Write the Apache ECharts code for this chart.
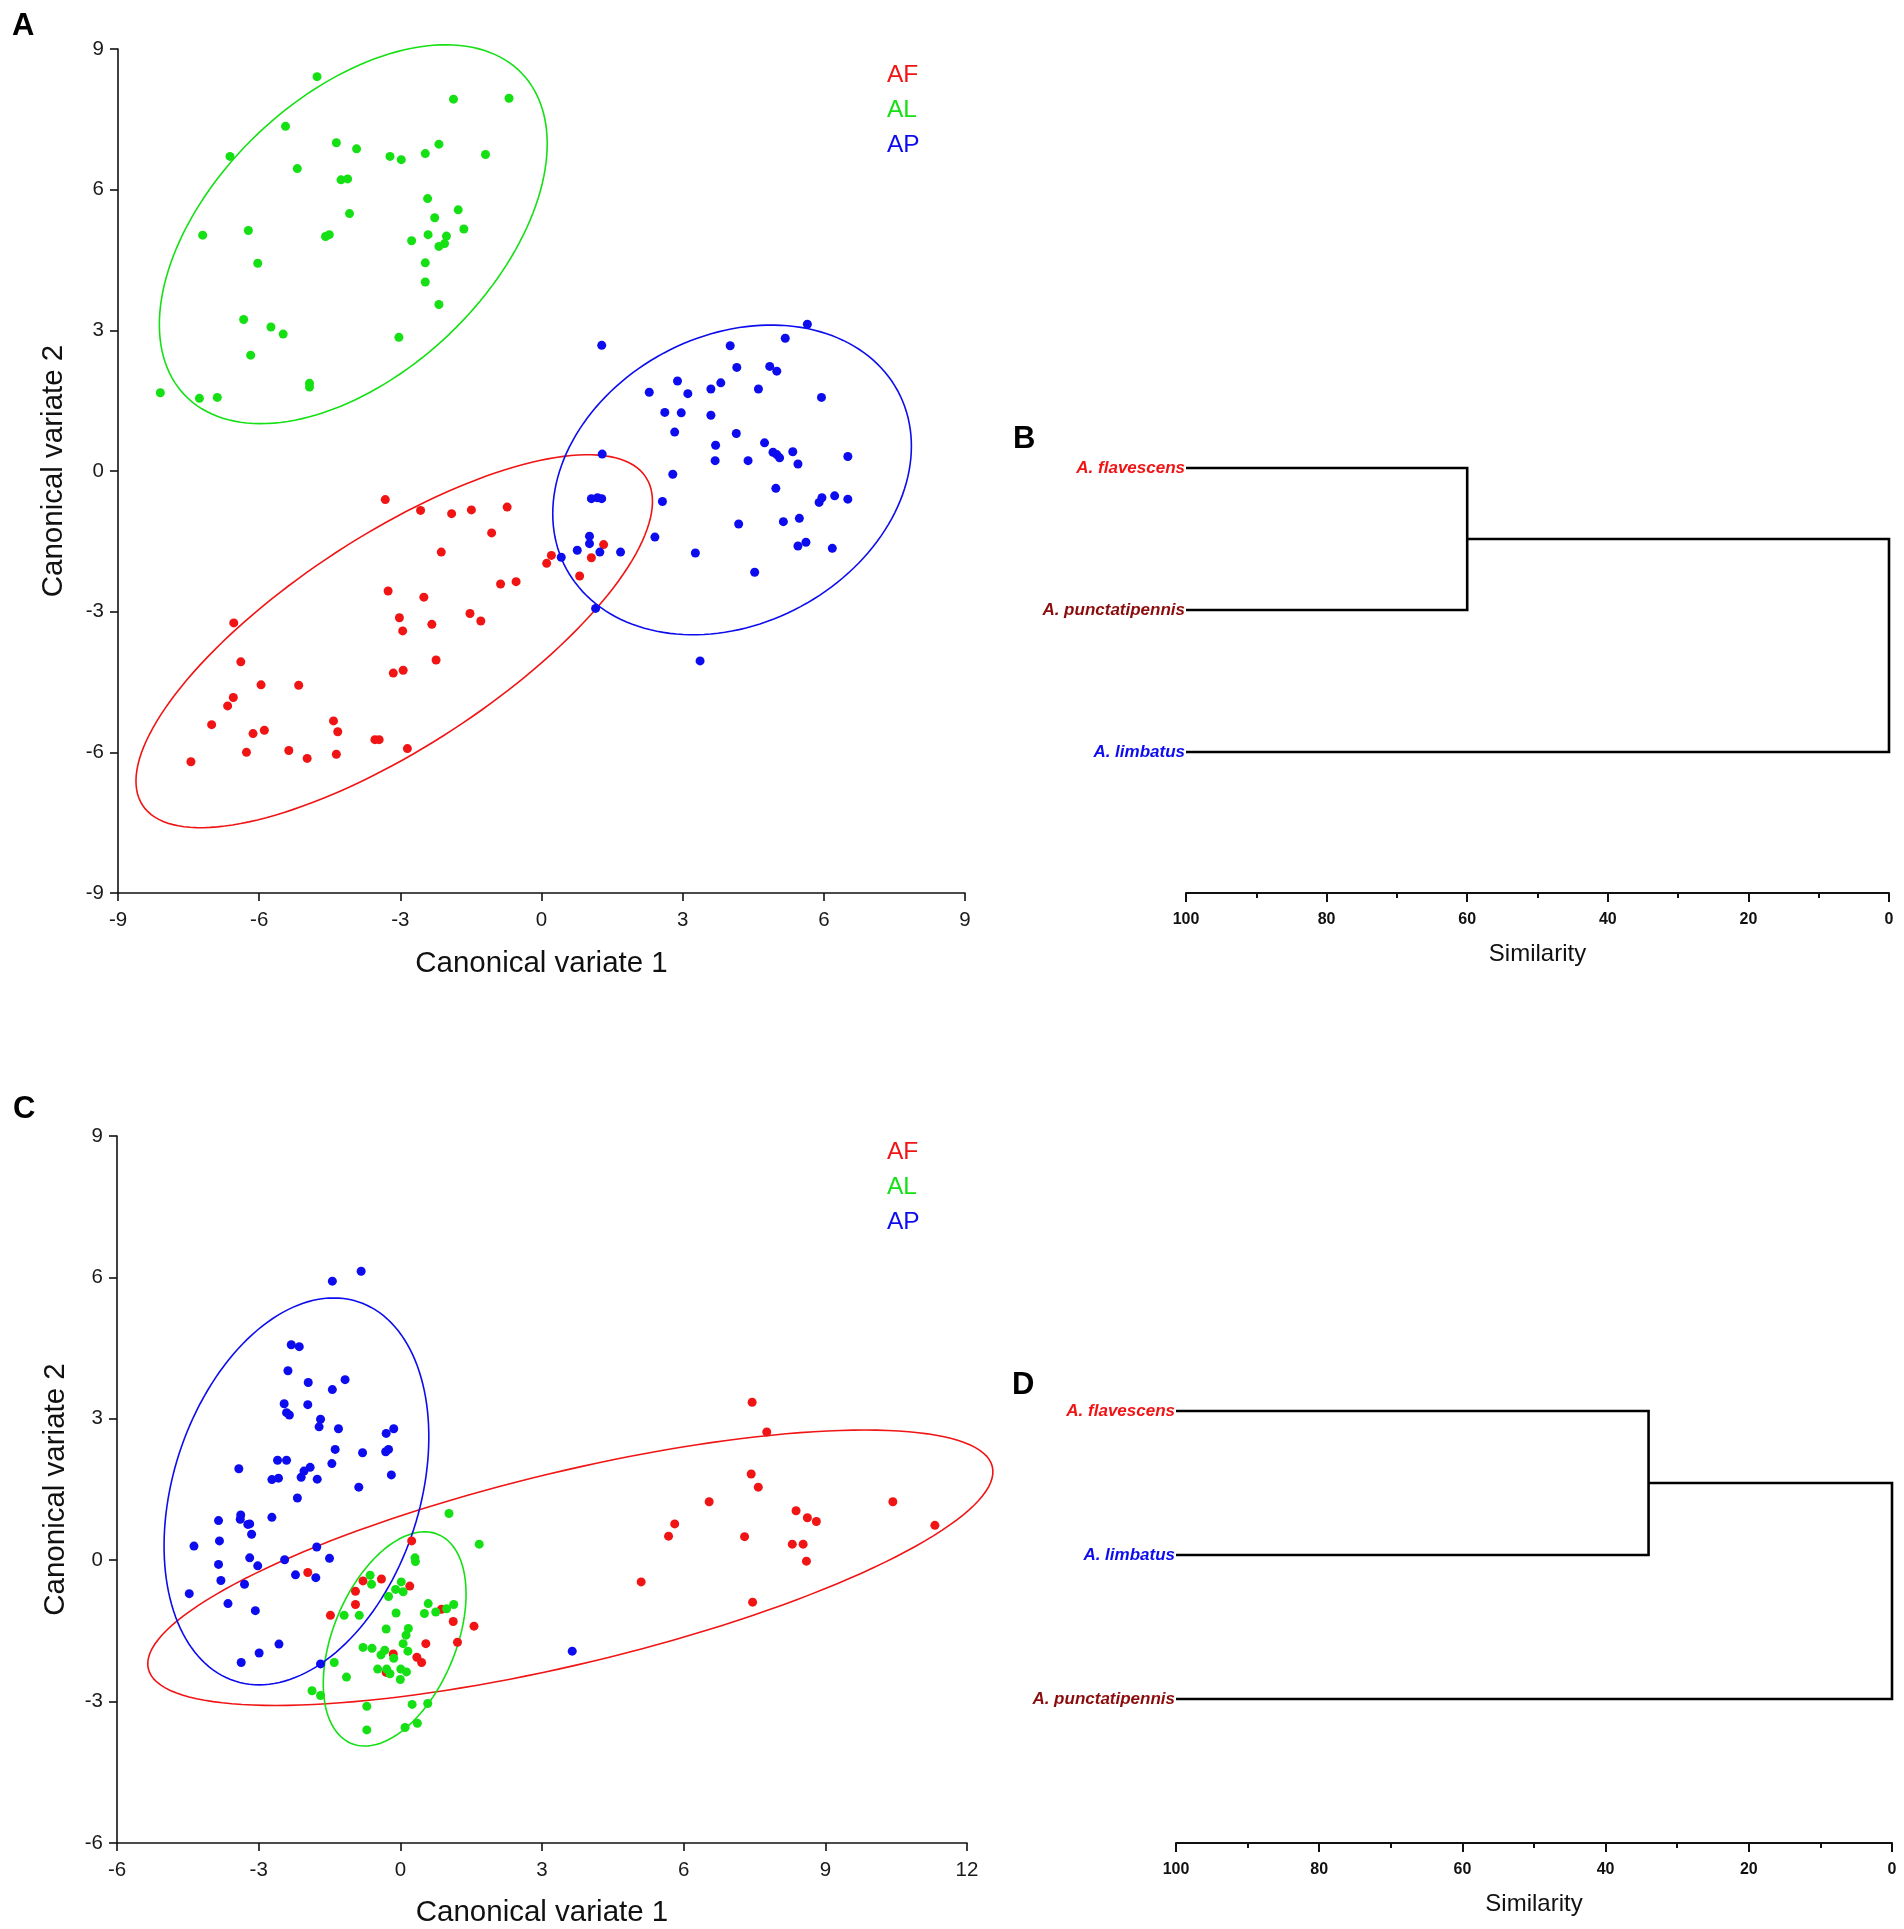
<!DOCTYPE html>
<html>
<head>
<meta charset="utf-8">
<title>Canonical variates and similarity dendrograms</title>
<script src="https://cdn.jsdelivr.net/npm/echarts@6/dist/echarts.min.js"></script>
<style>
  html, body { margin: 0; padding: 0; background: #fff; }
  #chart { width: 1904px; height: 1929px; }
</style>
</head>
<body>
<div id="chart"></div>
<script>
// colours of the three species
const RED = '#f01414';
const GREEN = '#14e014';
const BLUE = '#0c0cee';
const DARKRED = '#8b0c0c';
const FONT = 'Liberation Sans, Arial, sans-serif';

// ---- panel A : canonical variates ----
const afA = [
  [-3.32, -0.61], [-2.57, -0.84], [-1.91, -0.91], [-1.49, -0.83], [-0.73, -0.77],
  [-1.06, -1.32], [-2.13, -1.73], [0.21, -1.80], [0.11, -1.97], [1.32, -1.57],
  [1.06, -1.85], [0.81, -2.24], [-0.87, -2.41], [-0.54, -2.36], [-3.26, -2.56],
  [-2.50, -2.69], [-3.02, -3.13], [-2.95, -3.41], [-2.33, -3.27], [-1.52, -3.04],
  [-1.29, -3.20], [-6.54, -3.24], [-2.24, -4.03], [-3.15, -4.31], [-2.94, -4.25],
  [-6.39, -4.07], [-5.96, -4.56], [-5.16, -4.57], [-6.55, -4.83], [-6.67, -5.01],
  [-7.01, -5.41], [-6.13, -5.60], [-5.89, -5.53], [-4.42, -5.33], [-4.33, -5.56],
  [-3.54, -5.73], [-3.45, -5.73], [-2.85, -5.92], [-5.37, -5.96], [-4.98, -6.13],
  [-4.36, -6.04], [-6.27, -6.00], [-7.45, -6.20]
];
const alA = [
  [-4.77, 8.41], [-1.87, 7.93], [-0.69, 7.95], [-5.44, 7.35], [-6.62, 6.71],
  [-4.36, 7.00], [-3.93, 6.87], [-5.19, 6.45], [-3.22, 6.71], [-2.98, 6.64],
  [-2.47, 6.77], [-2.18, 6.97], [-1.19, 6.75], [-4.26, 6.21], [-4.12, 6.23],
  [-2.42, 5.81], [-1.77, 5.57], [-2.27, 5.40], [-1.65, 5.16], [-4.08, 5.49],
  [-6.23, 5.13], [-7.20, 5.03], [-4.59, 5.00], [-4.51, 5.04], [-2.41, 5.04],
  [-2.02, 5.01], [-2.76, 4.91], [-2.18, 4.79], [-2.06, 4.85], [-2.47, 4.44],
  [-6.03, 4.43], [-2.47, 4.03], [-2.18, 3.55], [-6.33, 3.23], [-5.75, 3.07],
  [-5.49, 2.92], [-3.03, 2.85], [-6.18, 2.47], [-4.93, 1.87], [-4.93, 1.79],
  [-8.10, 1.67], [-7.27, 1.55], [-6.89, 1.57]
];
const apA = [
  [5.65, 3.13], [1.28, 2.68], [4.01, 2.67], [5.18, 2.83], [4.15, 2.21],
  [4.85, 2.23], [5.00, 2.13], [2.89, 1.92], [3.81, 1.88], [2.29, 1.68],
  [3.11, 1.65], [3.60, 1.75], [4.61, 1.75], [5.95, 1.57], [2.62, 1.25],
  [2.97, 1.24], [3.60, 1.19], [2.83, 0.83], [4.14, 0.80], [3.70, 0.55],
  [4.74, 0.60], [4.92, 0.40], [5.00, 0.35], [5.06, 0.28], [5.34, 0.41],
  [5.45, 0.15], [6.51, 0.31], [3.69, 0.22], [4.39, 0.22], [1.29, 0.36],
  [2.79, -0.07], [4.98, -0.37], [5.90, -0.67], [5.96, -0.57], [6.23, -0.53],
  [6.51, -0.60], [1.06, -0.59], [1.19, -0.57], [1.28, -0.59], [2.57, -0.65],
  [4.19, -1.13], [5.14, -1.08], [5.48, -1.01], [1.02, -1.39], [1.02, -1.55],
  [2.41, -1.41], [5.45, -1.60], [5.62, -1.52], [6.18, -1.65], [0.42, -1.84],
  [0.76, -1.69], [1.24, -1.73], [1.68, -1.73], [3.27, -1.75], [4.53, -2.16],
  [1.15, -2.93], [3.37, -4.05]
];
// ellipses: name, centre x, centre y, semi-major, semi-minor, angle (deg)
const ellipsesA = [
  ['AF', -3.13, -3.63, 6.39, 2.26, 33.2],
  ['AL', -4.00, 5.05, 4.96, 2.95, 43.8],
  ['AP', 4.05, -0.19, 4.00, 3.07, 28.3]
];

// ---- panel C ----
const afC = [
  [7.45, 3.35], [7.76, 2.72], [7.43, 1.83], [7.58, 1.55], [6.54, 1.24],
  [10.43, 1.24], [8.38, 1.05], [8.62, 0.90], [8.81, 0.82], [5.81, 0.77],
  [11.32, 0.74], [5.68, 0.51], [7.29, 0.50], [8.30, 0.34], [8.53, 0.34],
  [8.60, -0.02], [5.10, -0.46], [7.46, -0.89], [0.24, 0.41], [-1.96, -0.26],
  [-0.79, -0.44], [-0.40, -0.40], [0.20, -0.55], [-0.95, -0.66], [-0.95, -0.94],
  [-1.48, -1.17], [0.87, -1.04], [1.12, -1.30], [1.56, -1.40], [1.21, -1.74],
  [0.54, -1.77], [-0.15, -1.99], [0.35, -2.06], [0.45, -2.17], [-0.30, -2.38]
];
const alC = [
  [1.03, 0.99], [1.67, 0.34], [0.31, 0.05], [0.32, -0.03], [-0.64, -0.32],
  [0.02, -0.46], [-0.61, -0.51], [-0.10, -0.62], [0.06, -0.67], [-0.25, -0.77],
  [0.59, -0.92], [1.13, -0.94], [0.98, -1.03], [0.75, -1.10], [0.51, -1.13],
  [-0.09, -1.12], [-0.87, -1.17], [-1.19, -1.17], [-0.30, -1.46], [0.17, -1.45],
  [0.12, -1.59], [0.06, -1.77], [-0.79, -1.85], [-0.60, -1.87], [0.16, -1.93],
  [-0.33, -1.91], [-0.41, -2.01], [-0.14, -2.08], [-1.40, -2.17], [-0.48, -2.31],
  [-0.29, -2.31], [0.01, -2.31], [-0.22, -2.41], [0.13, -2.37], [0.00, -2.53],
  [-1.14, -2.48], [-1.87, -2.77], [-1.69, -2.87], [0.25, -3.06], [0.58, -3.04],
  [-0.71, -3.10], [0.36, -3.46], [0.10, -3.55], [-0.71, -3.60]
];
const apC = [
  [-0.83, 6.13], [-1.44, 5.92], [-2.31, 4.57], [-2.14, 4.53], [-2.38, 4.02],
  [-1.17, 3.83], [-1.95, 3.77], [-1.44, 3.62], [-2.46, 3.32], [-1.96, 3.30],
  [-2.41, 3.13], [-2.35, 3.08], [-1.69, 2.99], [-1.72, 2.83], [-1.31, 2.79],
  [-0.14, 2.79], [-0.30, 2.69], [-0.25, 2.35], [-0.31, 2.30], [-1.38, 2.35],
  [-0.80, 2.28], [-2.60, 2.12], [-2.41, 2.12], [-1.45, 2.05], [-1.91, 1.97],
  [-2.04, 1.89], [-3.42, 1.94], [-2.10, 1.76], [-1.76, 1.72], [-2.72, 1.71],
  [-2.58, 1.74], [-0.19, 1.81], [-0.88, 1.55], [-2.18, 1.32], [-2.72, 0.91],
  [-3.85, 0.84], [-3.38, 0.96], [-3.39, 0.87], [-3.23, 0.76], [-3.19, 0.77],
  [-3.15, 0.55], [-3.83, 0.41], [-4.37, 0.30], [-1.77, 0.28], [-3.19, 0.05],
  [-2.45, 0.01], [-1.50, 0.04], [-3.85, -0.09], [-3.02, -0.12], [-2.22, -0.31],
  [-1.79, -0.37], [-3.80, -0.43], [-3.30, -0.51], [-4.47, -0.71], [-3.65, -0.92],
  [-3.07, -1.07], [-2.57, -1.78], [-2.99, -1.97], [-3.37, -2.17], [-1.69, -2.20],
  [3.64, -1.93]
];
const ellipsesC = [
  ['AF', 3.60, -0.16, 9.19, 2.04, 13.5],
  ['AL', -0.12, -1.67, 2.40, 1.30, 67.5],
  ['AP', -2.20, 1.46, 4.23, 2.61, 72.1]
];

// ---- dendrograms: leaves (top to bottom) and merges [childA, childB, similarity] ----
const leavesB = ['A. flavescens', 'A. punctatipennis', 'A. limbatus'];
const mergesB = [[0, 1, 60], [3, 2, 0]];
const leavesD = ['A. flavescens', 'A. limbatus', 'A. punctatipennis'];
const mergesD = [[0, 1, 34], [3, 2, 0]];
const simTicks = [0, 100, 20];

const groupColor = { AF: RED, AL: GREEN, AP: BLUE };
const leafColor = { 'A. flavescens': RED, 'A. punctatipennis': DARKRED, 'A. limbatus': BLUE };

function ellipseItem(params, api) {
  const cx = api.value(0), cy = api.value(1);
  const a = api.value(2), b = api.value(3);
  const t = api.value(4) * Math.PI / 180;
  const pts = [];
  for (let k = 0; k < 160; k++) {
    const u = k / 160 * 2 * Math.PI;
    const x = cx + a * Math.cos(u) * Math.cos(t) - b * Math.sin(u) * Math.sin(t);
    const y = cy + a * Math.cos(u) * Math.sin(t) + b * Math.sin(u) * Math.cos(t);
    pts.push(api.coord([x, y]));
  }
  return {
    type: 'polygon',
    shape: { points: pts },
    style: { fill: 'none', stroke: api.visual('color'), lineWidth: 1.6 }
  };
}

function dendroItem(merges, nLeaves) {
  return function (params, api) {
    const pos = function (k) {
      if (k < nLeaves) return api.coord([100, k]);
      const m = merges[k - nLeaves];
      const pa = pos(m[0]), pb = pos(m[1]);
      return [api.coord([m[2], 0])[0], (pa[1] + pb[1]) / 2];
    };
    const m = merges[params.dataIndex];
    const pa = pos(m[0]), pb = pos(m[1]);
    const xm = api.coord([m[2], 0])[0];
    return {
      type: 'polyline',
      shape: { points: [pa, [xm, pa[1]], [xm, pb[1]], pb] },
      style: { fill: 'none', stroke: '#000', lineWidth: 2.6 }
    };
  };
}

function scatterAxis(min, max, gridIndex, name, isX, gap) {
  return {
    type: 'value', gridIndex: gridIndex, min: min, max: max, interval: 3,
    name: name, nameLocation: 'middle', nameGap: gap,
    nameTextStyle: { fontSize: 29.5, color: '#111', fontFamily: FONT },
    splitLine: { show: false },
    axisLine: { show: true, onZero: false, lineStyle: { color: '#111', width: 1.6 } },
    axisTick: { show: true, length: 8, lineStyle: { color: '#111', width: 1.6 } },
    axisLabel: { fontSize: 20.5, color: '#1a1a1a', fontFamily: FONT, margin: isX ? 17 : 14 }
  };
}

function simAxis(gridIndex, offset) {
  return {
    type: 'value', gridIndex: gridIndex, inverse: true,
    min: simTicks[0], max: simTicks[1], interval: simTicks[2], offset: offset,
    name: 'Similarity', nameLocation: 'middle', nameGap: 49,
    nameTextStyle: { fontSize: 24, color: '#111', fontFamily: FONT },
    splitLine: { show: false },
    axisLine: { show: true, onZero: false, lineStyle: { color: '#111', width: 2 } },
    axisTick: { show: true, length: 9, lineStyle: { color: '#111', width: 2 } },
    minorTick: { show: true, splitNumber: 2, length: 5, lineStyle: { color: '#111', width: 2 } },
    axisLabel: { fontSize: 16, fontWeight: 'bold', color: '#111', fontFamily: FONT, margin: 19 }
  };
}

function leafAxis(gridIndex, leaves) {
  return {
    type: 'category', gridIndex: gridIndex, data: leaves, inverse: true,
    axisLine: { show: false }, axisTick: { show: false },
    axisLabel: {
      margin: 1, fontSize: 17, fontWeight: 'bold', fontStyle: 'italic', fontFamily: FONT,
      color: function (v) { return leafColor[v]; }
    }
  };
}

function pointSeries(name, data, idx) {
  return {
    name: name, type: 'scatter', xAxisIndex: idx, yAxisIndex: idx, data: data,
    symbolSize: 9, itemStyle: { color: groupColor[name], opacity: 1 }, z: 3
  };
}

function ellipseSeries(e, idx) {
  return {
    name: e[0], type: 'custom', xAxisIndex: idx, yAxisIndex: idx,
    data: [e.slice(1)], renderItem: ellipseItem, clip: false,
    itemStyle: { color: groupColor[e[0]] }, silent: true, z: 2
  };
}

function groupLegend(top) {
  return {
    orient: 'vertical', left: 882, top: top, padding: 0,
    icon: 'none', itemWidth: 0, itemHeight: 24, itemGap: 10, selectedMode: false,
    textStyle: { fontSize: 24.5, fontFamily: FONT },
    data: ['AF', 'AL', 'AP'].map(function (n) { return { name: n, textStyle: { color: groupColor[n] } }; })
  };
}

const letters = [['A', 12, 11], ['B', 1013, 424], ['C', 13, 1094], ['D', 1012, 1370]];

const chart = echarts.init(document.getElementById('chart'), null, { renderer: 'canvas' });
chart.setOption({
  backgroundColor: '#fff',
  animation: false,
  textStyle: { fontFamily: FONT },
  grid: [
    { left: 118, top: 49, width: 847, height: 844 },
    { left: 1186, top: 397, width: 703, height: 426 },
    { left: 117, top: 1136, width: 850, height: 707 },
    { left: 1176, top: 1339, width: 716, height: 432 }
  ],
  xAxis: [
    scatterAxis(-9, 9, 0, 'Canonical variate 1', true, 56),
    simAxis(1, 70),
    scatterAxis(-6, 12, 2, 'Canonical variate 1', true, 55),
    simAxis(3, 72)
  ],
  yAxis: [
    scatterAxis(-9, 9, 0, 'Canonical variate 2', false, 49),
    leafAxis(1, leavesB),
    scatterAxis(-6, 9, 2, 'Canonical variate 2', false, 46),
    leafAxis(3, leavesD)
  ],
  legend: [groupLegend(63), groupLegend(1140)],
  graphic: letters.map(function (l) {
    return {
      type: 'text', left: l[1], top: l[2],
      style: { text: l[0], fontSize: 31, fontWeight: 'bold', fill: '#000', fontFamily: FONT }
    };
  }),
  series: [
    pointSeries('AF', afA, 0), pointSeries('AL', alA, 0), pointSeries('AP', apA, 0),
    ellipseSeries(ellipsesA[0], 0), ellipseSeries(ellipsesA[1], 0), ellipseSeries(ellipsesA[2], 0),
    {
      type: 'custom', xAxisIndex: 1, yAxisIndex: 1, data: mergesB,
      renderItem: dendroItem(mergesB, leavesB.length), clip: false, silent: true
    },
    pointSeries('AF', afC, 2), pointSeries('AL', alC, 2), pointSeries('AP', apC, 2),
    ellipseSeries(ellipsesC[0], 2), ellipseSeries(ellipsesC[1], 2), ellipseSeries(ellipsesC[2], 2),
    {
      type: 'custom', xAxisIndex: 3, yAxisIndex: 3, data: mergesD,
      renderItem: dendroItem(mergesD, leavesD.length), clip: false, silent: true
    }
  ]
});
</script>
</body>
</html>
